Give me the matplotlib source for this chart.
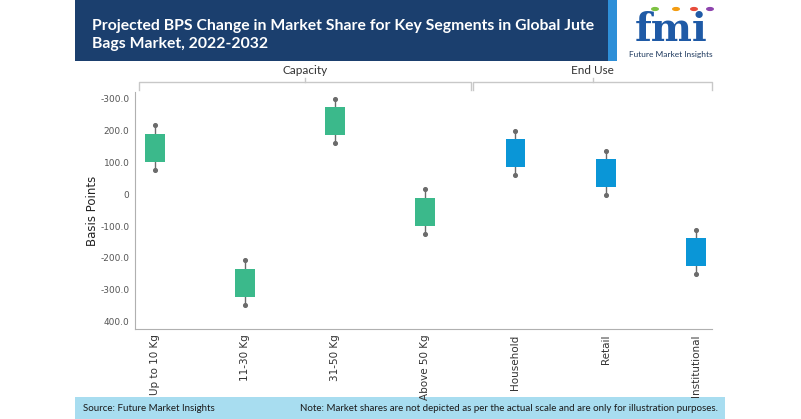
import matplotlib
matplotlib.use("Agg")
import matplotlib.pyplot as plt
from matplotlib.patches import Rectangle, Circle
from matplotlib.lines import Line2D

categories = ["Up to 10 Kg", "11-30 Kg", "31-50 Kg", "Above 50 Kg", "Household", "Retail", "Institutional"]
groups = ["Capacity", "Capacity", "Capacity", "Capacity", "End Use", "End Use", "End Use"]
low = [75, -347, 159, -124, 58, -4, -250]
q1 = [100, -321, 183, -99, 84, 22, -225]
q3 = [187, -233, 272, -11, 172, 109, -137]
high = [215, -207, 298, 15, 198, 135, -111]
ytick_vals = [-400, -300, -200, -100, 0, 100, 200, 300]
ytick_labels = ["400.0", "-300.0", "-200.0", "-100.0", "0", "100.0", "200.0", "-300.0"]
title = "Projected BPS Change in Market Share for Key Segments in Global Jute\nBags Market, 2022-2032"
source = "Source: Future Market Insights"
note = "Note: Market shares are not depicted as per the actual scale and are only for illustration purposes."

GREEN = "#3BB98B"
BLUE = "#0A96D7"
colors = [GREEN if g == "Capacity" else BLUE for g in groups]

W, H = 801, 419
fig = plt.figure(figsize=(W / 100, H / 100), dpi=100)
fig.patch.set_facecolor("white")

def fx(px):
    return px / W

def fy(py):
    return 1 - py / H

# header band
fig.add_artist(Rectangle((fx(75), fy(61)), fx(538), 61 / H, transform=fig.transFigure,
                         facecolor="#1B3F6E", edgecolor="none", zorder=0))
fig.add_artist(Rectangle((fx(608), fy(61)), fx(9), 61 / H, transform=fig.transFigure,
                         facecolor="#2E8FD8", edgecolor="none", zorder=0))
fig.text(fx(92), fy(35), title, color="white", fontsize=11.3, fontweight="bold",
         family="Lato", va="center", ha="left", linespacing=1.45)

# logo
fig.text(fx(671), fy(30), "fmi", color="#1F5AA6", fontsize=28, fontweight="bold",
         family="DejaVu Serif", ha="center", va="center")
for cx, c in [(655, "#7DC242"), (676, "#F39C12"), (694, "#E74C3C"), (710, "#8E44AD")]:
    fig.add_artist(Circle((fx(cx), fy(9)), 4 / W, transform=fig.transFigure,
                          facecolor=c, edgecolor="none"))
fig.text(fx(671), fy(54), "Future Market Insights", color="#1F3A5F", fontsize=6,
         family="Lato", ha="center", va="center")

# footer band
fig.add_artist(Rectangle((fx(75), 0), fx(650), 22 / H, transform=fig.transFigure,
                         facecolor="#A8DDF0", edgecolor="none", zorder=0))
fig.text(fx(83), 11 / H, source, fontsize=7, family="Lato", color="#1a1a1a", va="center")
fig.text(fx(718), 11 / H, note, fontsize=7, family="Lato", color="#1a1a1a", va="center", ha="right")

# main axes
ax = fig.add_axes([fx(135), 90 / H, fx(577), 237 / H])
x = list(range(len(categories)))
ax.vlines(x, low, high, color="#6b6b6b", lw=1.0, zorder=1)
ax.scatter(x, low, s=7, color="#6b6b6b", zorder=3)
ax.scatter(x, high, s=7, color="#6b6b6b", zorder=3)
heights = [b - a for a, b in zip(q1, q3)]
ax.bar(x, heights, bottom=q1, width=0.22, color=colors, zorder=2)

ax.set_xlim(-0.22, 6.18)
ax.set_ylim(-422, 319)
ax.set_yticks(ytick_vals)
ax.set_yticklabels(ytick_labels, fontsize=6.5, color="#555555", family="DejaVu Sans")
ax.set_xticks(x)
ax.set_xticklabels(categories, rotation=90, fontsize=7.5, color="#333333", family="DejaVu Sans")
ax.tick_params(axis="both", length=0, pad=4)
for s in ["top", "right"]:
    ax.spines[s].set_visible(False)
ax.spines["left"].set_color("#b0b0b0")
ax.spines["bottom"].set_color("#b0b0b0")
ax.set_ylabel("Basis Points", fontsize=8.5, color="#222222", family="DejaVu Sans", labelpad=0)
ax.yaxis.set_label_coords(-0.062, 0.5)

# group brackets
def bracket(x0, x1, label):
    yb = fy(82)
    c = "#c8c8c8"
    fig.add_artist(Line2D([fx(x0), fx(x0), fx(x1), fx(x1)], [fy(90), yb, yb, fy(90)],
                          transform=fig.transFigure, color=c, lw=1))
    xm = (x0 + x1) / 2
    fig.add_artist(Line2D([fx(xm), fx(xm)], [yb, fy(78)], transform=fig.transFigure, color=c, lw=1))
    fig.text(fx(xm), fy(70), label, fontsize=8.5, color="#333333", family="Lato",
             ha="center", va="center")

bracket(139, 471, "Capacity")
bracket(473, 712, "End Use")

fig.savefig("out.png", dpi=100)
